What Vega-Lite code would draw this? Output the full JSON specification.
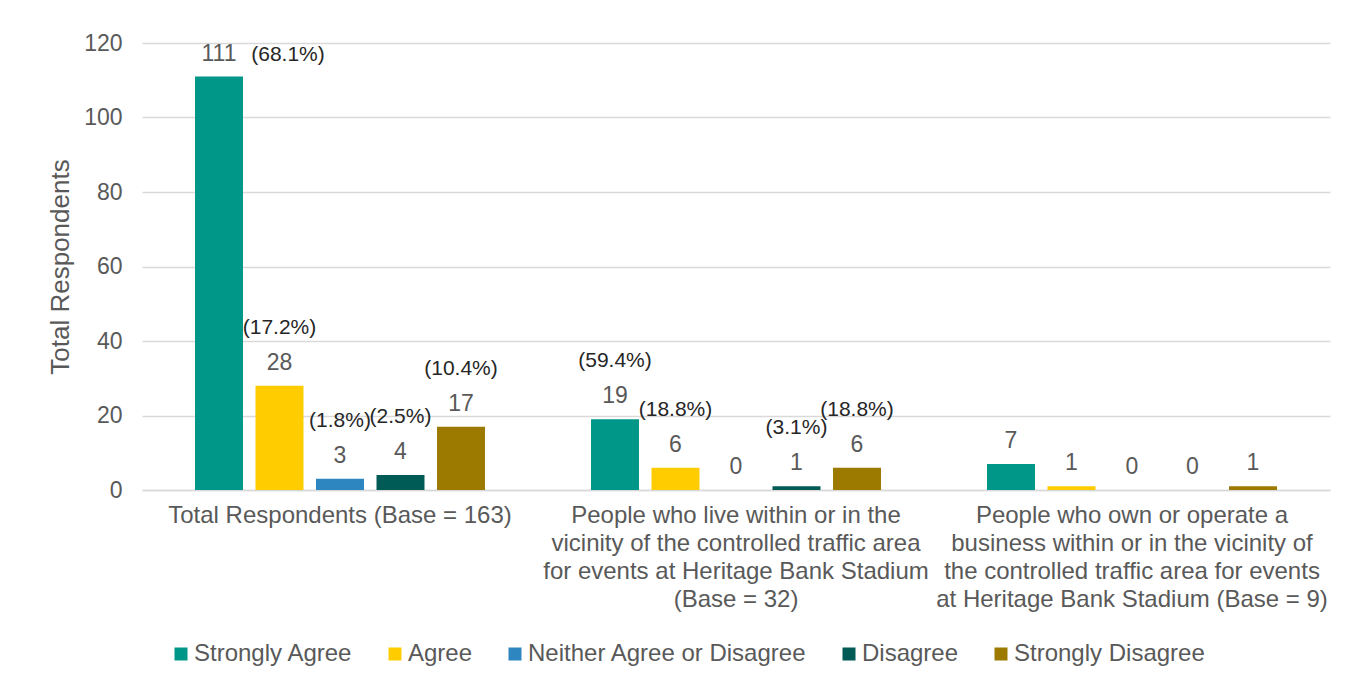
{
  "$schema": "https://vega.github.io/schema/vega-lite/v6.json",
  "width": 1188,
  "height": 447,
  "autosize": {"type": "none"},
  "padding": {"left": 142, "top": 43, "right": 16, "bottom": 192},
  "background": "white",
  "config": {
    "font": "Liberation Sans",
    "view": {"stroke": null},
    "text": {"font": "Liberation Sans"},
    "axis": {"labelFont": "Liberation Sans", "titleFont": "Liberation Sans"},
    "legend": {"labelFont": "Liberation Sans"}
  },
  "data": {
    "values": [
      {"group": "Total Respondents (Base = 163)", "response": "Strongly Agree", "count": 111, "pct": "(68.1%)"},
      {"group": "Total Respondents (Base = 163)", "response": "Agree", "count": 28, "pct": "(17.2%)"},
      {"group": "Total Respondents (Base = 163)", "response": "Neither Agree or Disagree", "count": 3, "pct": "(1.8%)"},
      {"group": "Total Respondents (Base = 163)", "response": "Disagree", "count": 4, "pct": "(2.5%)"},
      {"group": "Total Respondents (Base = 163)", "response": "Strongly Disagree", "count": 17, "pct": "(10.4%)"},
      {"group": "People who live within or in the|vicinity of the controlled traffic area|for events at Heritage Bank Stadium|(Base = 32)", "response": "Strongly Agree", "count": 19, "pct": "(59.4%)"},
      {"group": "People who live within or in the|vicinity of the controlled traffic area|for events at Heritage Bank Stadium|(Base = 32)", "response": "Agree", "count": 6, "pct": "(18.8%)"},
      {"group": "People who live within or in the|vicinity of the controlled traffic area|for events at Heritage Bank Stadium|(Base = 32)", "response": "Neither Agree or Disagree", "count": 0, "pct": ""},
      {"group": "People who live within or in the|vicinity of the controlled traffic area|for events at Heritage Bank Stadium|(Base = 32)", "response": "Disagree", "count": 1, "pct": "(3.1%)"},
      {"group": "People who live within or in the|vicinity of the controlled traffic area|for events at Heritage Bank Stadium|(Base = 32)", "response": "Strongly Disagree", "count": 6, "pct": "(18.8%)"},
      {"group": "People who own or operate a|business within or in the vicinity of|the controlled traffic area for events|at Heritage Bank Stadium (Base = 9)", "response": "Strongly Agree", "count": 7, "pct": ""},
      {"group": "People who own or operate a|business within or in the vicinity of|the controlled traffic area for events|at Heritage Bank Stadium (Base = 9)", "response": "Agree", "count": 1, "pct": ""},
      {"group": "People who own or operate a|business within or in the vicinity of|the controlled traffic area for events|at Heritage Bank Stadium (Base = 9)", "response": "Neither Agree or Disagree", "count": 0, "pct": ""},
      {"group": "People who own or operate a|business within or in the vicinity of|the controlled traffic area for events|at Heritage Bank Stadium (Base = 9)", "response": "Disagree", "count": 0, "pct": ""},
      {"group": "People who own or operate a|business within or in the vicinity of|the controlled traffic area for events|at Heritage Bank Stadium (Base = 9)", "response": "Strongly Disagree", "count": 1, "pct": ""}
    ]
  },
  "encoding": {
    "x": {
      "field": "group",
      "type": "nominal",
      "sort": null,
      "scale": {"paddingInner": 0, "paddingOuter": 0},
      "axis": {
        "title": null,
        "labelAngle": 0,
        "labelExpr": "split(datum.label, '|')",
        "labelFontSize": 24,
        "labelColor": "#595959",
        "labelLineHeight": 28,
        "labelPadding": 13,
        "labelBaseline": "top",
        "labelLimit": 0,
        "ticks": false,
        "domainColor": "#D9D9D9",
        "domainWidth": 1.5
      }
    },
    "xOffset": {
      "field": "response",
      "type": "nominal",
      "sort": ["Strongly Agree", "Agree", "Neither Agree or Disagree", "Disagree", "Strongly Disagree"],
      "scale": {"paddingInner": 0.207, "paddingOuter": 0.876}
    },
    "y": {
      "field": "count",
      "type": "quantitative",
      "scale": {"domain": [0, 120]},
      "axis": {
        "title": "Total Respondents",
        "titleFontSize": 26,
        "titleFontWeight": "normal",
        "titleColor": "#595959",
        "titlePadding": 10,
        "values": [0, 20, 40, 60, 80, 100, 120],
        "labelFontSize": 23,
        "labelColor": "#595959",
        "labelPadding": 20,
        "ticks": false,
        "domain": false,
        "gridColor": "#D9D9D9",
        "gridWidth": 1.5
      }
    }
  },
  "layer": [
    {
      "mark": {"type": "bar"},
      "encoding": {
        "color": {
          "field": "response",
          "type": "nominal",
          "sort": ["Strongly Agree", "Agree", "Neither Agree or Disagree", "Disagree", "Strongly Disagree"],
          "scale": {
            "domain": ["Strongly Agree", "Agree", "Neither Agree or Disagree", "Disagree", "Strongly Disagree"],
            "range": ["#009688", "#FFCC00", "#2E86C1", "#005A55", "#9C7A00"]
          },
          "legend": {
            "title": null,
            "orient": "none",
            "direction": "horizontal",
            "legendX": 27,
            "legendY": 599,
            "symbolType": "square",
            "symbolSize": 169,
            "symbolStrokeWidth": 0,
            "labelFontSize": 24,
            "labelColor": "#595959",
            "labelOffset": 1,
            "columnPadding": 30,
            "labelLimit": 0
          }
        }
      }
    },
    {
      "mark": {"type": "text", "baseline": "alphabetic", "dy": -16, "fontSize": 23, "color": "#595959"},
      "encoding": {"text": {"field": "count", "type": "quantitative"}}
    },
    {
      "transform": [{"filter": "datum.pct != '' && datum.count < 100"}],
      "mark": {"type": "text", "baseline": "alphabetic", "dy": -52, "fontSize": 21, "color": "#262626"},
      "encoding": {"text": {"field": "pct", "type": "nominal"}}
    },
    {
      "transform": [{"filter": "datum.pct != '' && datum.count >= 100"}],
      "mark": {"type": "text", "baseline": "alphabetic", "dy": -16, "dx": 69, "fontSize": 21, "color": "#262626"},
      "encoding": {"text": {"field": "pct", "type": "nominal"}}
    }
  ]
}
